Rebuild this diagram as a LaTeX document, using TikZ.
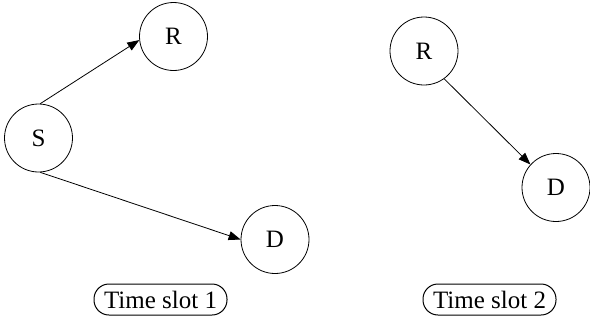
\documentclass[tikz,border=0pt]{standalone}
\usepackage{fontspec}
\setmainfont{Liberation Serif}
\usetikzlibrary{arrows.meta}
\begin{document}
\begin{tikzpicture}[x=1pt,y=-1pt,
  vtx/.style={draw, circle, line width=0.8pt, minimum size=68pt, inner sep=0pt, font=\fontsize{25}{28}\selectfont},
  slot/.style={draw, line width=1pt, rounded corners=15pt, minimum width=133pt, minimum height=31pt, inner sep=0pt, font=\fontsize{25}{28}\selectfont},
  arr/.style={line width=0.8pt, -{Triangle[length=12pt,width=9pt]}}]
\useasboundingbox (0,0) rectangle (590,322);
\node[vtx] (S) at (38.5,138) {S};
\node[vtx] (R) at (173.5,36.5) {R};
\node[vtx] (D) at (275,239.5) {D};
\node[vtx] (R2) at (424,51) {R};
\node[vtx] (D2) at (556,187.5) {D};
\node[slot] (T1) at (160.5,299.5) {Time slot 1};
\node[slot] (T2) at (489.5,299.5) {Time slot 2};
\draw[arr] (S.87) -- (R.186);
\draw[arr] (S.273) -- (D.180);
\draw[arr] (R2.-54) -- (D2.138);
\end{tikzpicture}
\end{document}
